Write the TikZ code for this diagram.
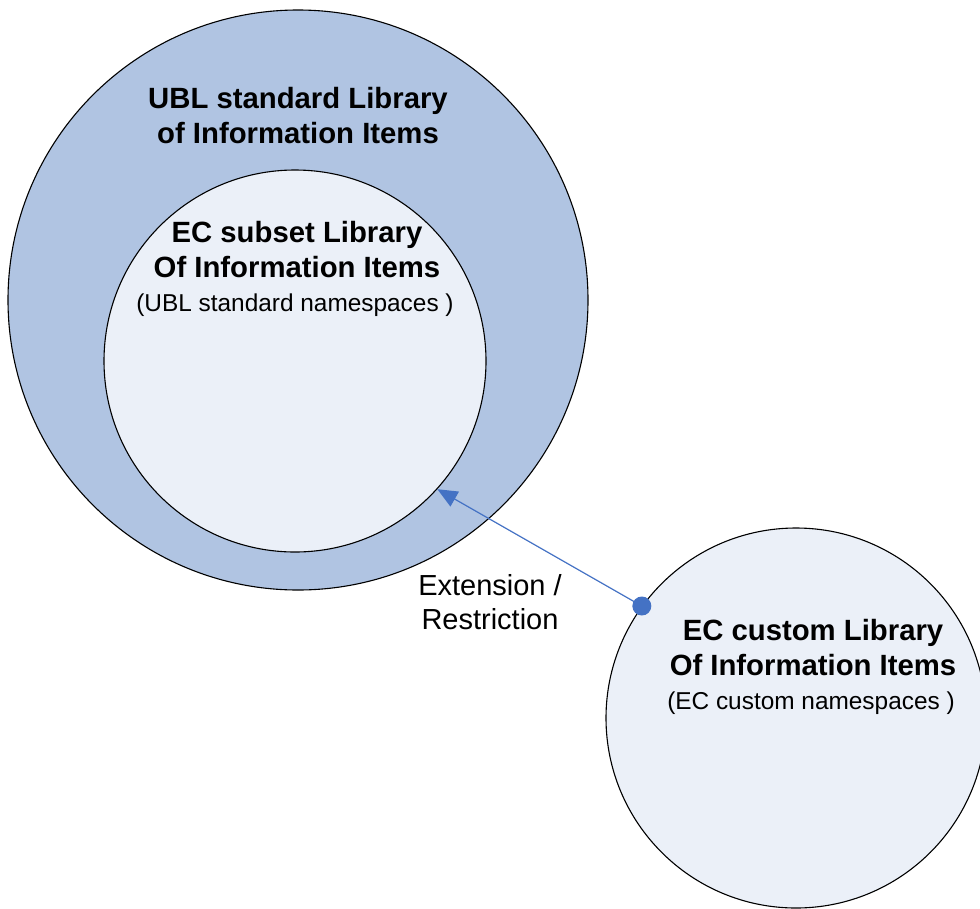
\documentclass[tikz,border=0pt]{standalone}
\usepackage{fontspec}
\setmainfont{Liberation Sans}
\usetikzlibrary{arrows.meta}
\definecolor{outerblue}{HTML}{B0C4E2}
\definecolor{paleblue}{HTML}{EBF0F8}
\definecolor{linkblue}{HTML}{4472C4}
\tikzset{
  lib/.style={circle, draw=black, line width=1.1pt, inner sep=0pt},
  headline/.style={align=center, font=\bfseries\fontsize{29.3}{35}\selectfont},
  subline/.style={align=center, font=\fontsize{24.4}{30}\selectfont},
  plainlabel/.style={align=center, font=\fontsize{29}{34.5}\selectfont},
  link/.style={draw=linkblue, line width=1.2pt, -{Triangle[length=20pt,width=17pt]}},
}
\begin{document}
\begin{tikzpicture}[x=1pt, y=-1pt]
\useasboundingbox (0,0) rectangle (980,908);
\clip (0,0) rectangle (980,908);
% the three libraries
\node[lib, fill=outerblue, minimum size=580pt] (ubl) at (298,300) {};
\node[lib, fill=paleblue, minimum size=382pt] (subset) at (295,361) {};
\node[lib, fill=paleblue, minimum size=380pt] (custom) at (796,718) {};
% captions
\node[headline] (ubltxt) at (298,115.5) {UBL standard Library\\of Information Items};
\node[headline] (subtxt) at (297,250) {EC subset Library\\Of Information Items};
\node[subline] (subns) at (295,305) {(UBL standard namespaces )};
\node[headline] (custxt) at (813,648) {EC custom Library\\Of Information Items};
\node[subline] (cusns) at (811,703) {(EC custom namespaces )};
\node[plainlabel] (extlbl) at (490,602) {Extension /\\Restriction};
% extension link
\coordinate (from) at (custom.144.9);
\coordinate (to) at (subset.-42.5);
\draw[link] (from) -- (to);
\fill[linkblue] (from) circle (9.5pt);
\end{tikzpicture}
\end{document}
